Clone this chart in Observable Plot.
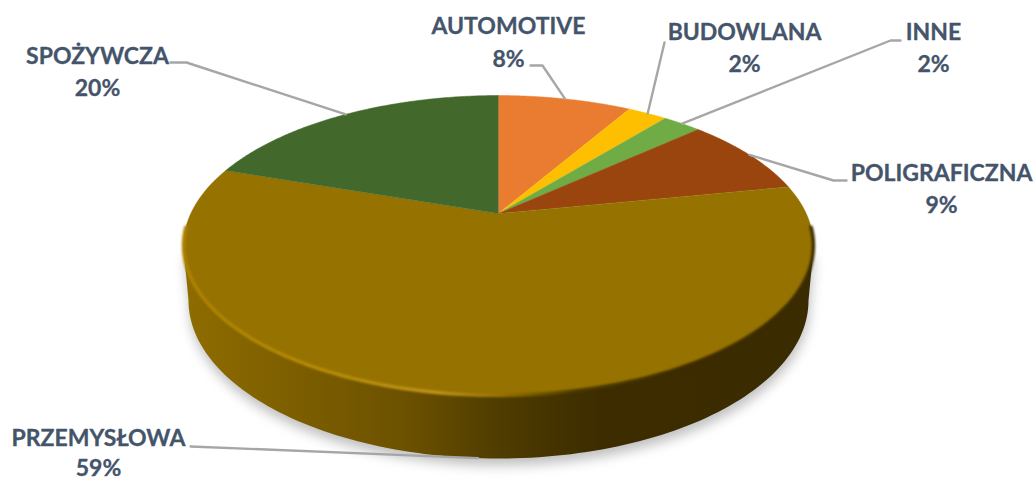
<!DOCTYPE html>
<html>
<head>
<meta charset="utf-8">
<script src="https://cdn.jsdelivr.net/npm/d3@7"></script>
<script src="https://cdn.jsdelivr.net/npm/@observablehq/plot@0.6"></script>
<style>html,body{margin:0;padding:0;background:#fff}svg{display:block}</style>
</head>
<body>
<div id="chart"></div>
<script>
// Data
const categories = ["AUTOMOTIVE", "BUDOWLANA", "INNE", "POLIGRAFICZNA", "PRZEMYSŁOWA", "SPOŻYWCZA"];
const shares = [8.4, 2.5, 2.4, 8.6, 58.3, 19.8];
const shareLabels = ["8%", "2%", "2%", "9%", "59%", "20%"];
const sliceColors = ["#E97C30", "#FDBF00", "#6FAC46", "#99450D", "#967200", "#43682B"];

// Label placement (centre x, baseline of name, baseline of percentage, leader start, optional elbow)
const labelLayout = [
  {x: 508, name: 33, pct: 66, from: [530, 65], elbow: [542, 65]},
  {x: 744, name: 39, pct: 71, from: [664, 42], elbow: null},
  {x: 933, name: 39, pct: 71, from: [900, 40], elbow: [890, 40]},
  {x: 941, name: 180, pct: 212, from: [846, 180], elbow: [833, 180]},
  {x: 98, name: 445, pct: 475, from: [190, 446], elbow: null, onSide: true},
  {x: 97, name: 63, pct: 95, from: [170, 62], elbow: [186, 62]}
];

// Pie geometry: a circle seen in perspective
const view = {cx: 498, cy: 213, a: 307.7, b: 97.7, k: 0.2133};
const base = {cx: 498, cy: 300, rx: 310, ry: 158};
const tau = Math.PI * 2;
function topPoint(t) { // t: clockwise from the top, in radians
  const u = Math.sin(t), v = -Math.cos(t), w = 1 - view.k * v;
  return [view.cx + view.a * u / w, (view.cy + view.b * v) / w];
}
function basePoint(t) {
  return [base.cx + base.rx * Math.sin(t), base.cy - base.ry * Math.cos(t)];
}
const arcAngles = (t0, t1) => d3.range(0, 121).map(i => t0 + (t1 - t0) * i / 120);
const asRows = pts => pts.map(([x, y]) => ({x, y}));

const total = d3.sum(shares);
const edges = Array.from(d3.cumsum([0, ...shares]), s => s / total * tau);

const sliceMarks = categories.map((c, i) => {
  const rows = asRows([[view.cx, view.cy], ...arcAngles(edges[i], edges[i + 1]).map(topPoint)]);
  return Plot.line(rows, {x: "x", y: "y", fill: sliceColors[i], stroke: sliceColors[i], strokeWidth: 0.5, curve: "linear"});
});

const leftWide = Math.PI * 1.5, rightWide = Math.PI * 0.5;
const bodyOutline = asRows([
  topPoint(Math.PI * 1.42),
  ...arcAngles(leftWide, rightWide).map(basePoint),
  topPoint(Math.PI * 0.58)
]);
const rimArc = asRows(arcAngles(Math.PI * 1.47, Math.PI * 0.53).map(topPoint));

const leaders = categories.flatMap((c, i) => {
  const l = labelLayout[i], mid = (edges[i] + edges[i + 1]) / 2;
  const end = l.onSide ? basePoint(mid) : topPoint(mid);
  const pts = [l.from, ...(l.elbow ? [l.elbow] : []), end];
  return pts.map(([x, y]) => ({x, y, c}));
});

const labelRows = categories.map((c, i) => ({c, p: shareLabels[i], ...labelLayout[i]}));

function gradients() {
  const defs = d3.create("svg:defs");
  const grad = (id, stops) => {
    const g = defs.append("linearGradient").attr("id", id)
      .attr("gradientUnits", "userSpaceOnUse")
      .attr("x1", 184).attr("x2", 814).attr("y1", 0).attr("y2", 0);
    stops.forEach(([o, col]) => g.append("stop").attr("offset", o).attr("stop-color", col));
  };
  grad("side", [[0, "#8F6C00"], [0.18, "#7C5E00"], [0.35, "#6C5100"], [0.5, "#4F3C00"], [0.66, "#3C2C00"], [1, "#3B2B00"]]);
  grad("rim", [[0, "#AD8300"], [0.2, "#B68B05"], [0.4, "#C0941A"], [0.5, "#967200"], [0.62, "#4A3800"], [0.8, "#3C2C00"], [1, "#3C2C00"]]);
  return defs.node();
}

const textStyle = {fontFamily: "Lato", fontWeight: 700, fontSize: 23, fill: "#44546A", stroke: "#44546A", strokeWidth: 0.3, lineAnchor: "bottom"};

const plot = Plot.plot({
  width: 1034,
  height: 480,
  margin: 0,
  x: {domain: [0, 1034], range: [0, 1034], axis: null},
  y: {domain: [0, 480], range: [0, 480], axis: null},
  style: {background: "#fff", overflow: "hidden"},
  marks: [
    gradients,
    Plot.line(bodyOutline, {x: "x", y: "y", fill: "#8c8c8c", stroke: "none", fillOpacity: 0.55, dx: 1, dy: 7, imageFilter: "blur(6px)"}),
    Plot.line(bodyOutline, {x: "x", y: "y", fill: "url(#side)", stroke: "none"}),
    ...sliceMarks,
    Plot.line(rimArc, {x: "x", y: "y", stroke: "url(#rim)", strokeWidth: 3.5, fill: "none", imageFilter: "blur(1.3px)"}),
    Plot.line(leaders, {x: "x", y: "y", z: "c", stroke: "#A6A6A6", strokeWidth: 2.4, curve: "linear"}),
    Plot.text(labelRows, {x: "x", y: "name", text: "c", ...textStyle}),
    Plot.text(labelRows, {x: "x", y: "pct", text: "p", ...textStyle})
  ]
});
document.getElementById("chart").append(plot);
</script>
</body>
</html>
